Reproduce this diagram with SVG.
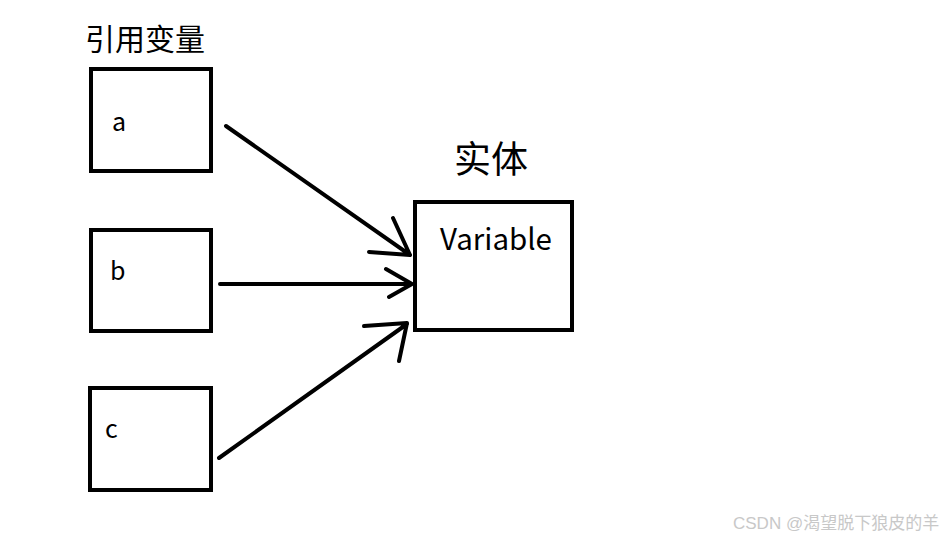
<svg xmlns="http://www.w3.org/2000/svg" width="945" height="539" viewBox="0 0 945 539">
<style>
.box{fill:none;stroke:#000;stroke-width:4}
.ln{fill:none;stroke:#000;stroke-width:4;stroke-linecap:round;stroke-linejoin:round}
.t{font-family:"Noto Sans CJK SC","Noto Sans",sans-serif;fill:#000}
.wm{font-family:"Liberation Sans","Noto Sans CJK SC",sans-serif;fill:#c8c8c8;font-size:17px}
</style>
<rect width="945" height="539" fill="#fff"/>
<text class="t" x="85" y="50" font-size="30">引用变量</text>
<g id="a"><rect class="box" x="91" y="69" width="120" height="102"/><text class="t" x="112" y="131" font-size="25">a</text></g>
<g id="b"><rect class="box" x="91" y="230" width="120" height="101"/><text class="t" x="110" y="280" font-size="25">b</text></g>
<g id="c"><rect class="box" x="90" y="388" width="121" height="102"/><text class="t" x="105" y="438" font-size="25">c</text></g>
<g id="variable"><text class="t" x="454" y="173" font-size="37">实体</text><rect class="box" x="415" y="202" width="157" height="128"/><text class="t" x="440" y="250" font-size="29.5">Variable</text></g>
<g id="connectors">
<path class="ln" d="M226,126 L410,255 M393,218 L410,255 L369,252"/>
<path class="ln" d="M220,284 L412,284 M386,269 L412,284 L389,297"/>
<path class="ln" d="M219,458 L407,324 M364,326 L407,323 L399,361"/>
</g>
<text class="wm" x="733" y="529">CSDN @渴望脱下狼皮的羊</text>
</svg>
